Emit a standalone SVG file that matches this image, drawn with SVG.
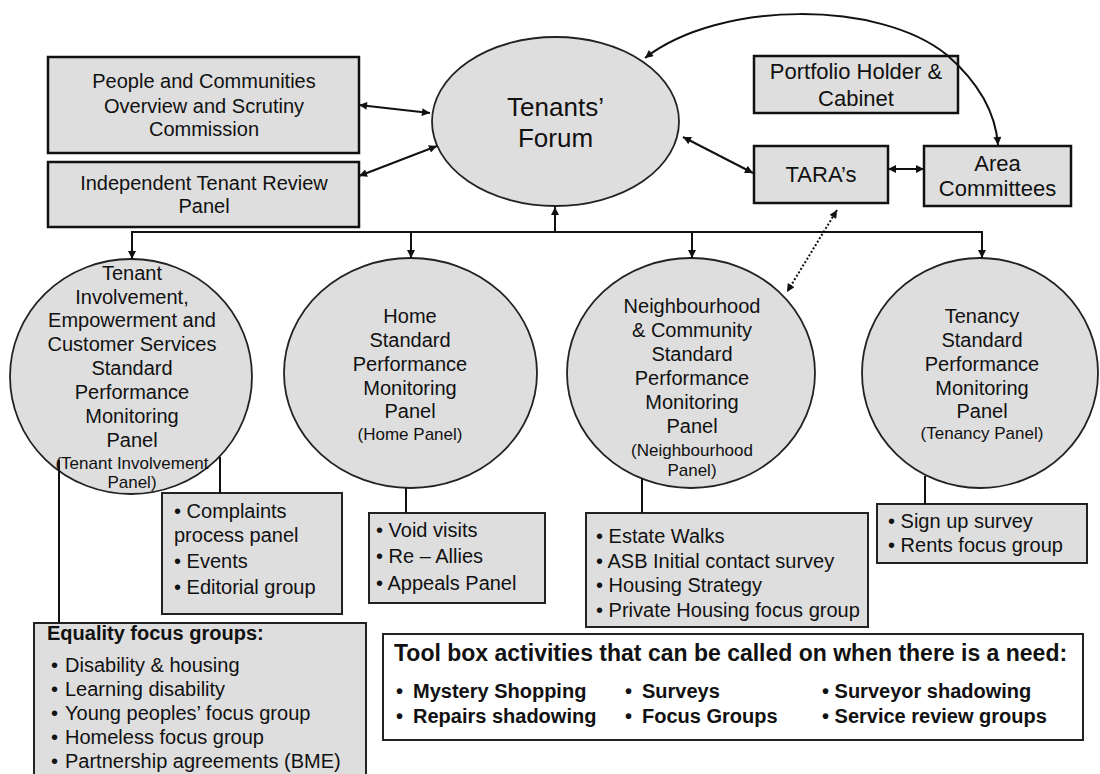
<svg xmlns="http://www.w3.org/2000/svg" width="1100" height="774" viewBox="0 0 1100 774">
<defs>
<style>
.t{font-family:"Liberation Sans",Arial,sans-serif;font-size:20px;fill:#111}
.c{text-anchor:middle}
.s{font-size:17px}
.b{font-weight:bold}
.big{font-size:26px}
.top{font-size:22px}
.box{fill:#dedede;stroke:#111;stroke-width:2.5}
.lbox{fill:#dedede;stroke:#222;stroke-width:2}
.wbox{fill:#ffffff;stroke:#222;stroke-width:2}
.ell{fill:#dedede;stroke:#222;stroke-width:1.8}
.ln{fill:none;stroke:#111;stroke-width:2}
</style>
<marker id="ah" viewBox="0 0 10 10" refX="10" refY="5" markerWidth="9" markerHeight="8" markerUnits="userSpaceOnUse" orient="auto-start-reverse">
<path d="M0,0 L10,5 L0,10 z" fill="#111"/>
</marker>
</defs>
<rect width="1100" height="774" fill="#fff"/>

<g id="pcosc">
<rect class="box" x="48" y="57" width="311" height="96"/>
<text class="t c" x="204" y="88">People and Communities</text>
<text class="t c" x="204" y="113">Overview and Scrutiny</text>
<text class="t c" x="204" y="136">Commission</text>
</g>
<g id="itrp">
<rect class="box" x="48" y="162" width="311" height="65"/>
<text class="t c" x="204" y="190">Independent Tenant Review</text>
<text class="t c" x="204" y="213">Panel</text>
</g>
<g id="forum">
<ellipse class="ell" cx="555.5" cy="121.5" rx="123.5" ry="84.5"/>
<text class="t c big" x="555.5" y="116">Tenants’</text>
<text class="t c big" x="555.5" y="147">Forum</text>
</g>
<g id="portfolio">
<rect class="box" x="754" y="56" width="204" height="57"/>
<text class="t c top" x="856" y="79">Portfolio Holder &amp;</text>
<text class="t c top" x="856" y="106">Cabinet</text>
</g>
<g id="taras">
<rect class="box" x="754" y="146" width="134" height="57"/>
<text class="t c top" x="821" y="182">TARA’s</text>
</g>
<g id="area">
<rect class="box" x="924" y="146" width="147" height="60"/>
<text class="t c top" x="997.5" y="171">Area</text>
<text class="t c top" x="997.5" y="196">Committees</text>
</g>

<g id="tiecs">
<ellipse class="ell" cx="131" cy="376.5" rx="121" ry="117.5"/>
<text class="t c" x="132" y="280">Tenant</text>
<text class="t c" x="132" y="304">Involvement,</text>
<text class="t c" x="132" y="327">Empowerment and</text>
<text class="t c" x="132" y="351">Customer Services</text>
<text class="t c" x="132" y="375">Standard</text>
<text class="t c" x="132" y="399">Performance</text>
<text class="t c" x="132" y="423">Monitoring</text>
<text class="t c" x="132" y="447">Panel</text>
<text class="t c s" x="132" y="469">(Tenant Involvement</text>
<text class="t c s" x="132" y="488">Panel)</text>
</g>
<g id="home">
<ellipse class="ell" cx="410.5" cy="373" rx="126.5" ry="115"/>
<text class="t c" x="410" y="323">Home</text>
<text class="t c" x="410" y="347">Standard</text>
<text class="t c" x="410" y="371">Performance</text>
<text class="t c" x="410" y="395">Monitoring</text>
<text class="t c" x="410" y="418">Panel</text>
<text class="t c s" x="410" y="440">(Home Panel)</text>
</g>
<g id="neigh">
<ellipse class="ell" cx="691" cy="373" rx="124" ry="115"/>
<text class="t c" x="692" y="313">Neighbourhood</text>
<text class="t c" x="692" y="337">&amp; Community</text>
<text class="t c" x="692" y="361">Standard</text>
<text class="t c" x="692" y="385">Performance</text>
<text class="t c" x="692" y="409">Monitoring</text>
<text class="t c" x="692" y="433">Panel</text>
<text class="t c s" x="692" y="456">(Neighbourhood</text>
<text class="t c s" x="692" y="476">Panel)</text>
</g>
<g id="tenancy">
<ellipse class="ell" cx="980" cy="373" rx="118" ry="115"/>
<text class="t c" x="982" y="323">Tenancy</text>
<text class="t c" x="982" y="347">Standard</text>
<text class="t c" x="982" y="371">Performance</text>
<text class="t c" x="982" y="395">Monitoring</text>
<text class="t c" x="982" y="418">Panel</text>
<text class="t c s" x="982" y="439">(Tenancy Panel)</text>
</g>

<g id="complaints">
<rect class="lbox" x="162" y="493" width="180" height="121"/>
<text class="t" x="174" y="518">• Complaints</text>
<text class="t" x="174" y="542">process panel</text>
<text class="t" x="174" y="568">• Events</text>
<text class="t" x="174" y="594">• Editorial group</text>
</g>
<g id="homebox">
<rect class="lbox" x="369" y="513" width="176" height="90"/>
<text class="t" x="376" y="537">• Void visits</text>
<text class="t" x="376" y="563">• Re – Allies</text>
<text class="t" x="376" y="590">• Appeals Panel</text>
</g>
<g id="neighbox">
<rect class="lbox" x="586" y="513" width="282" height="114"/>
<text class="t" x="596" y="543">• Estate Walks</text>
<text class="t" x="596" y="568">• ASB Initial contact survey</text>
<text class="t" x="596" y="592">• Housing Strategy</text>
<text class="t" x="596" y="617">• Private Housing focus group</text>
</g>
<g id="tenancybox">
<rect class="lbox" x="877" y="504" width="210" height="59"/>
<text class="t" x="888" y="528">• Sign up survey</text>
<text class="t" x="888" y="552">• Rents focus group</text>
</g>
<g id="equality">
<rect class="lbox" x="34" y="623" width="332" height="160"/>
<text class="t b" x="47" y="640">Equality focus groups:</text>
<text class="t" x="51" y="672">•</text><text class="t" x="65" y="672">Disability &amp; housing</text>
<text class="t" x="51" y="696">•</text><text class="t" x="65" y="696">Learning disability</text>
<text class="t" x="51" y="720">•</text><text class="t" x="65" y="720">Young peoples’ focus group</text>
<text class="t" x="51" y="744">•</text><text class="t" x="65" y="744">Homeless focus group</text>
<text class="t" x="51" y="768">•</text><text class="t" x="65" y="768">Partnership agreements (BME)</text>
</g>
<g id="toolbox">
<rect class="wbox" x="383" y="634" width="700" height="106"/>
<text class="t b" x="394" y="661" style="font-size:23px">Tool box activities that can be called on when there is a need:</text>
<text class="t b" x="396" y="698">•</text><text class="t b" x="413" y="698">Mystery Shopping</text>
<text class="t b" x="396" y="723">•</text><text class="t b" x="413" y="723">Repairs shadowing</text>
<text class="t b" x="625" y="698">•</text><text class="t b" x="642" y="698">Surveys</text>
<text class="t b" x="625" y="723">•</text><text class="t b" x="642" y="723">Focus Groups</text>
<text class="t b" x="822" y="698">• Surveyor shadowing</text>
<text class="t b" x="822" y="723">• Service review groups</text>
</g>

<g id="connectors">
<line class="ln" x1="359" y1="105" x2="430" y2="113" marker-start="url(#ah)" marker-end="url(#ah)"/>
<line class="ln" x1="359" y1="176" x2="437" y2="146" marker-start="url(#ah)" marker-end="url(#ah)"/>
<line class="ln" x1="683" y1="137" x2="753" y2="173" stroke-width="2.5" marker-start="url(#ah)" marker-end="url(#ah)"/>
<line class="ln" x1="888" y1="169" x2="924" y2="169" marker-start="url(#ah)" marker-end="url(#ah)"/>
<path class="ln" d="M645,58 C720,0 880,0 947,55 C970,75 995,105 998,145" stroke-width="1.8" marker-start="url(#ah)" marker-end="url(#ah)"/>
<line class="ln" x1="837" y1="210" x2="787" y2="292" stroke-width="1.5" stroke-dasharray="2,2" marker-start="url(#ah)" marker-end="url(#ah)"/>
<polyline class="ln" points="132,258 132,232 982,232 982,258" stroke-width="2.5"/>
<line class="ln" x1="555" y1="232" x2="555" y2="207" stroke-width="3" marker-end="url(#ah)"/>
<line class="ln" x1="132" y1="240" x2="132" y2="259" marker-end="url(#ah)"/>
<line class="ln" x1="411" y1="232" x2="411" y2="258" marker-end="url(#ah)"/>
<line class="ln" x1="692" y1="232" x2="692" y2="258" marker-end="url(#ah)"/>
<line class="ln" x1="982" y1="240" x2="982" y2="258" marker-end="url(#ah)"/>
<line class="ln" x1="220" y1="457" x2="220" y2="493"/>
<line class="ln" x1="59" y1="460" x2="59" y2="623"/>
<line class="ln" x1="406" y1="488" x2="406" y2="513"/>
<line class="ln" x1="642" y1="479" x2="642" y2="513"/>
<line class="ln" x1="925" y1="476" x2="925" y2="504"/>
</g>
</svg>
